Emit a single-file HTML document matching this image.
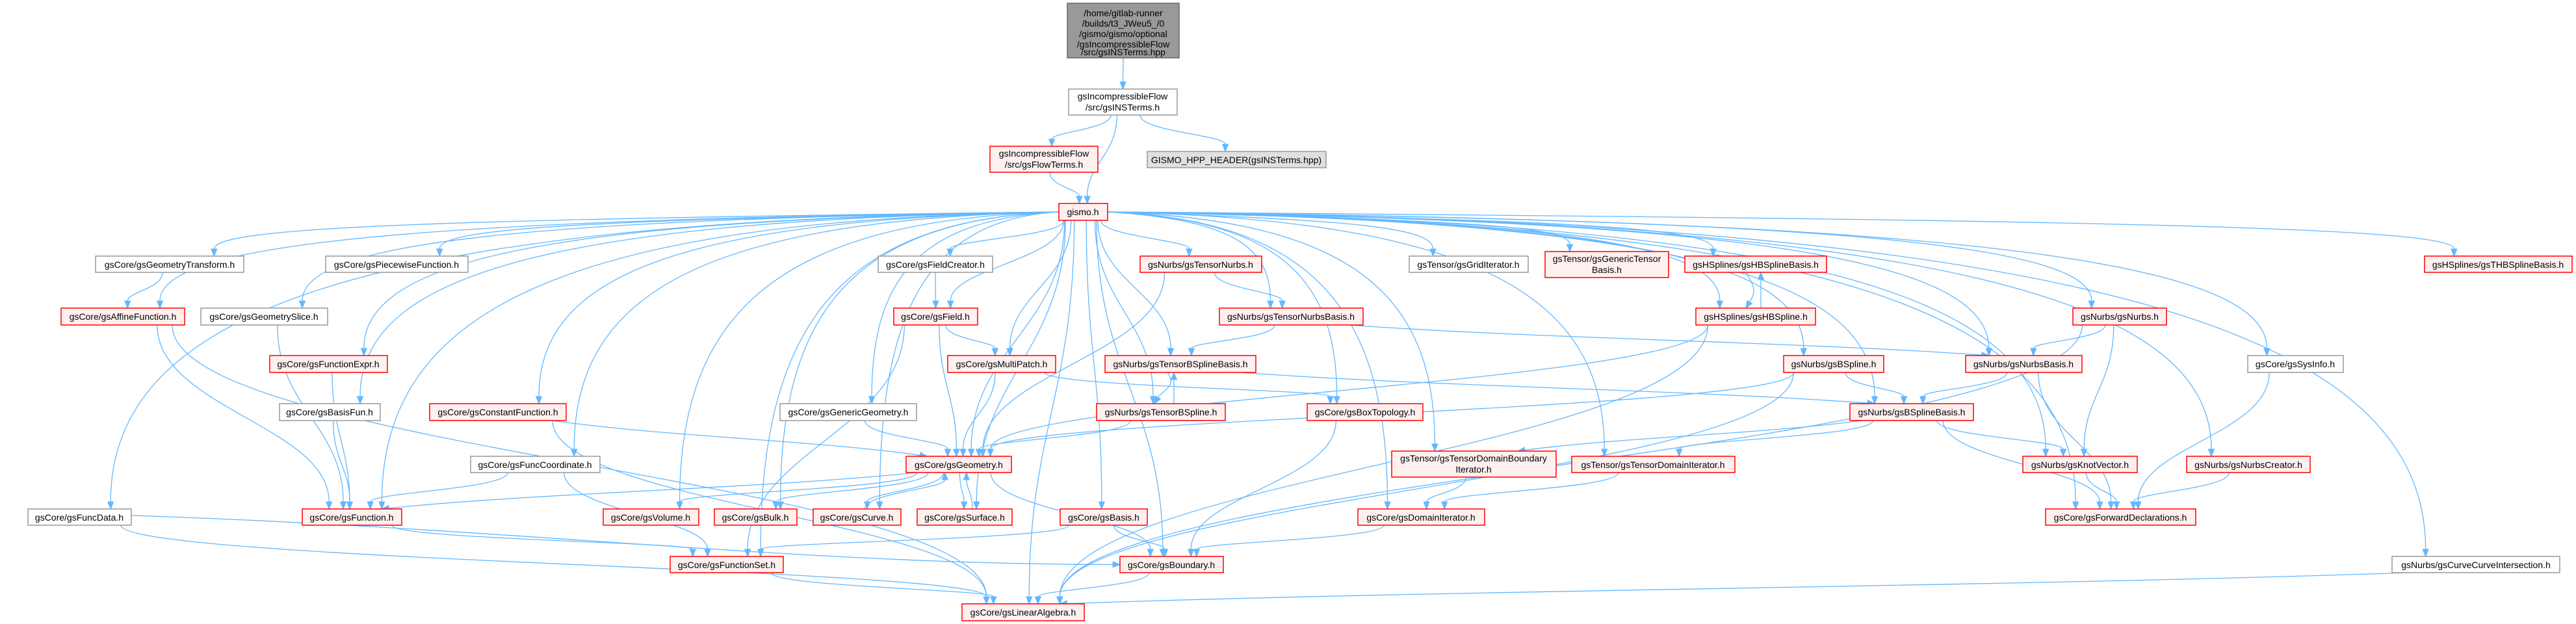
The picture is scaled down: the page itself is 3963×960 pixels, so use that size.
<!DOCTYPE html>
<html><head><meta charset="utf-8"><style>
html,body{margin:0;padding:0;background:#fff;}
svg{display:block;}
text{font-family:"Liberation Sans","DejaVu Sans",sans-serif;font-size:14px;fill:#000;text-anchor:middle;}
</style></head><body>
<svg id="g" width="3963" height="960" xmlns="http://www.w3.org/2000/svg">
<g id="edges" fill="none" stroke="#63b8ff" stroke-width="1.3"></g>
<g id="heads" fill="#63b8ff" stroke="#63b8ff"></g>
<g id="boxes"></g>
<g id="labels">
<text x="1728" y="25">/home/gitlab-runner</text>
<text x="1728" y="41">/builds/t3_JWeu5_/0</text>
<text x="1728" y="57">/gismo/gismo/optional</text>
<text x="1728" y="73">/gsIncompressibleFlow</text>
<text x="1728" y="89" dy="-4">/src/gsINSTerms.hpp</text>
<text x="1727" y="153">gsIncompressibleFlow</text>
<text x="1727" y="170">/src/gsINSTerms.h</text>
<text x="1606" y="241">gsIncompressibleFlow</text>
<text x="1606" y="258">/src/gsFlowTerms.h</text>
<text x="1902" y="251">GISMO_HPP_HEADER(gsINSTerms.hpp)</text>
<text x="1666" y="331">gismo.h</text>
<text x="261" y="412">gsCore/gsGeometryTransform.h</text>
<text x="610" y="412">gsCore/gsPiecewiseFunction.h</text>
<text x="189" y="492">gsCore/gsAffineFunction.h</text>
<text x="406" y="492">gsCore/gsGeometrySlice.h</text>
<text x="505" y="565">gsCore/gsFunctionExpr.h</text>
<text x="507" y="639">gsCore/gsBasisFun.h</text>
<text x="766" y="639">gsCore/gsConstantFunction.h</text>
<text x="823" y="720">gsCore/gsFuncCoordinate.h</text>
<text x="122" y="801">gsCore/gsFuncData.h</text>
<text x="541" y="801">gsCore/gsFunction.h</text>
<text x="1001" y="801">gsCore/gsVolume.h</text>
<text x="1162" y="801">gsCore/gsBulk.h</text>
<text x="1318" y="801">gsCore/gsCurve.h</text>
<text x="1484" y="801">gsCore/gsSurface.h</text>
<text x="1698" y="801">gsCore/gsBasis.h</text>
<text x="1118" y="874">gsCore/gsFunctionSet.h</text>
<text x="1802" y="874">gsCore/gsBoundary.h</text>
<text x="1574" y="947">gsCore/gsLinearAlgebra.h</text>
<text x="1439" y="412">gsCore/gsFieldCreator.h</text>
<text x="1847" y="412">gsNurbs/gsTensorNurbs.h</text>
<text x="1439" y="492">gsCore/gsField.h</text>
<text x="1986" y="492">gsNurbs/gsTensorNurbsBasis.h</text>
<text x="1541" y="565">gsCore/gsMultiPatch.h</text>
<text x="1816" y="565">gsNurbs/gsTensorBSplineBasis.h</text>
<text x="1305" y="639">gsCore/gsGenericGeometry.h</text>
<text x="1786" y="639">gsNurbs/gsTensorBSpline.h</text>
<text x="1475" y="720">gsCore/gsGeometry.h</text>
<text x="2259" y="412">gsTensor/gsGridIterator.h</text>
<text x="2472" y="403">gsTensor/gsGenericTensor</text>
<text x="2472" y="420">Basis.h</text>
<text x="2701" y="412">gsHSplines/gsHBSplineBasis.h</text>
<text x="2701" y="492">gsHSplines/gsHBSpline.h</text>
<text x="2821" y="565">gsNurbs/gsBSpline.h</text>
<text x="2100" y="639">gsCore/gsBoxTopology.h</text>
<text x="2941" y="639">gsNurbs/gsBSplineBasis.h</text>
<text x="2267" y="710">gsTensor/gsTensorDomainBoundary</text>
<text x="2267" y="727">Iterator.h</text>
<text x="2543" y="720">gsTensor/gsTensorDomainIterator.h</text>
<text x="2186" y="801">gsCore/gsDomainIterator.h</text>
<text x="3843" y="412">gsHSplines/gsTHBSplineBasis.h</text>
<text x="3261" y="492">gsNurbs/gsNurbs.h</text>
<text x="3113" y="565">gsNurbs/gsNurbsBasis.h</text>
<text x="3531" y="565">gsCore/gsSysInfo.h</text>
<text x="3200" y="720">gsNurbs/gsKnotVector.h</text>
<text x="3459" y="720">gsNurbs/gsNurbsCreator.h</text>
<text x="3262" y="801">gsCore/gsForwardDeclarations.h</text>
<text x="3809" y="874">gsNurbs/gsCurveCurveIntersection.h</text>
</g>
</svg>
<script>
var N={
top:[1642,5,1814,89,'t'],INS:[1644,137,1811,177,'g'],FT:[1523,225,1689,265,'r'],HPP:[1765,233,2040,258,'d'],
gismo:[1629,313,1704,339,'r'],GT:[147,394,375,419,'g'],PF:[501,394,720,419,'g'],AF:[94,474,284,500,'r'],
GS:[309,474,504,500,'g'],FE:[415,547,596,573,'r'],BF:[430,621,585,647,'g'],CF:[661,621,871,647,'r'],
FC:[724,702,923,727,'g'],FD:[43,783,202,808,'g'],FN:[465,783,618,808,'r'],VO:[928,783,1075,808,'r'],
BU:[1099,783,1226,808,'r'],CU:[1251,783,1386,808,'r'],SU:[1411,783,1557,808,'r'],BA:[1631,783,1765,808,'r'],
FS:[1031,856,1205,881,'r'],BD:[1723,856,1882,881,'r'],LA:[1480,929,1668,955,'r'],FCR:[1351,394,1527,419,'g'],
TN:[1754,394,1941,419,'r'],FI:[1375,474,1504,500,'r'],TNB:[1876,474,2097,500,'r'],MP:[1458,547,1624,573,'r'],
TBB:[1700,547,1932,573,'r'],GG:[1200,621,1410,647,'g'],TBS:[1687,621,1885,647,'r'],GE:[1394,702,1556,727,'r'],
GI:[2168,394,2351,419,'g'],GTB:[2377,387,2567,427,'r'],HBB:[2592,394,2810,419,'r'],HBS:[2609,474,2793,500,'r'],
BS:[2744,547,2898,573,'r'],BT:[2011,621,2189,647,'r'],BSB:[2846,621,3036,647,'r'],TDBI:[2141,694,2394,734,'r'],
TDI:[2418,702,2669,727,'r'],DI:[2089,783,2284,808,'r'],THB:[3730,394,3957,419,'r'],NU:[3189,474,3333,500,'r'],
NB:[3024,547,3203,573,'r'],SI:[3458,547,3605,573,'g'],KV:[3112,702,3288,727,'r'],NC:[3364,702,3554,727,'r'],
FWD:[3147,783,3378,808,'r'],CCI:[3680,856,3938,881,'g']};
var E=[['top','INS'],['INS','FT'],['INS','gismo'],['INS','HPP'],['FT','gismo'],
['GT','AF'],['AF','FN'],['AF','LA'],['GS','FN'],['FE','FN'],['BF','FN'],['CF','GE'],['CF','LA'],['FC','FN'],['FC','FS'],
['FD','BD'],['FD','LA'],['FN','FS'],['FCR','FI'],['FI','MP'],['FI','GE'],['FI','FS'],['MP','GE'],['MP','BT'],
['TN','TNB'],['TN','GE'],['TNB','TBB'],['TNB','NB'],['TBB','TBS'],['TBS','TBB'],['TBB','BSB'],['TBS','GE'],['GG','GE'],
['GE','FN'],['GE','VO'],['GE','BU'],['GE','CU'],['GE','SU'],['GE','BD'],['CU','GE'],['SU','GE'],['BA','FS'],['BA','BD'],
['FS','LA'],['BD','LA'],['HBB','HBS'],['HBS','HBB'],['HBS','GE'],['HBS','LA'],['BS','BSB'],['BS','GE'],['BS','LA'],
['BT','BD'],['BSB','TDBI'],['BSB','TDI'],['BSB','KV'],['BSB','FWD'],['TDBI','DI'],['TDI','DI'],['DI','BD'],
['NU','NB'],['NU','KV'],['NU','LA'],['NB','BSB'],['NB','FWD'],['KV','FWD'],['NC','FWD'],['SI','FWD'],['CCI','LA']];
['GT','PF','AF','GS','FE','BF','CF','FC','FD','FN','VO','BU','CU','SU','GG','FCR','FI','MP','TN','TNB','TBB','TBS','GE','BA','FS','BD','LA',
'GI','GTB','HBB','HBS','BS','BT','BSB','TDBI','TDI','DI','THB','NU','NB','SI','KV','NC','FWD','CCI'].forEach(function(t){E.push(['gismo',t]);});
var ns='http://www.w3.org/2000/svg';
function el(n,a,p){var e=document.createElementNS(ns,n);for(var k in a)e.setAttribute(k,a[k]);p.appendChild(e);return e;}
var B=document.getElementById('boxes'),EG=document.getElementById('edges'),H=document.getElementById('heads');
var sty={t:['#999999','#666666'],g:['#ffffff','#999999'],r:['#fff0f0','#ff0000'],d:['#e0e0e0','#999999']};
for(var k in N){var n=N[k];el('rect',{x:n[0],y:n[1],width:n[2]-n[0],height:n[3]-n[1],fill:sty[n[4]][0],stroke:sty[n[4]][1],'stroke-width':1.5},B);}
E.forEach(function(e){
 var s=N[e[0]],t=N[e[1]];
 var scx=(s[0]+s[2])/2,tcx=(t[0]+t[2])/2;
 var sx,sy,tx,ty,c1x,c1y,c2x,c2y;
 if(t[1]>=s[3]-2){ // downward
  var w=(s[2]-s[0])/2;
  sx=scx+Math.max(-w*0.8,Math.min(w*0.8,(tcx-scx)*0.15));sy=s[3];
  tx=tcx+Math.max(-(t[2]-t[0])*0.3,Math.min((t[2]-t[0])*0.3,(scx-tcx)*0.1));ty=t[1];
  if(e[0]=='gismo'&&Math.abs(tx-sx)>250){sx=tx<sx?s[0]:s[2];sy=(s[1]+s[3])/2;
   c1x=sx+(tx-sx)*0.75;c1y=sy+12;c2x=tx;c2y=sy+(ty-sy)*0.35;}
  else{var dy=ty-sy;c1x=sx;c1y=sy+dy*0.45;c2x=tx;c2y=ty-dy*0.45;
   if(Math.abs(tx-sx)>500&&dy<120){c1x=sx+(tx-sx)*0.3;c2x=tx-(tx-sx)*0.3;}}
 }else if(t[3]<=s[1]+2){ // upward
  sx=scx+(tcx-scx)*0.3;sy=s[1];tx=tcx+(scx-tcx)*0.2+8;ty=t[3];var dy=ty-sy;
  if(e[0]=='CU'||e[0]=='SU'){sx=scx+12;tx=tcx+(scx-tcx)*0.2+10;}
  if(e[0]=='TBS'){sx=scx+20;tx=tcx-10;} if(e[0]=='HBS'){sx=scx+8;tx=tcx+8;}
  c1x=sx;c1y=sy+dy*0.45;c2x=tx;c2y=ty-dy*0.45;
 }else{ // same row
  sx=tcx>scx?s[2]:s[0];sy=(s[1]+s[3])/2;tx=tcx>scx?t[0]:t[2];ty=(t[1]+t[3])/2;
  c1x=sx+(tx-sx)*0.4;c1y=sy;c2x=sx+(tx-sx)*0.6;c2y=ty;
 }
 if(e[0]=='FD'&&e[1]=='BD'){sx=s[2];sy=s[1]+10;tx=t[0];ty=(t[1]+t[3])/2;c1x=sx+600;c1y=sy+20;c2x=tx-500;c2y=ty;}
 if(e[0]=='TBB'&&e[1]=='TBS'){sx=scx-20;tx=tcx-10;}
 if(e[0]=='HBB'&&e[1]=='HBS'){sx=scx-15;tx=tcx-15;}
 // arrow
 var ax=tx-c2x,ay=ty-c2y,L=Math.sqrt(ax*ax+ay*ay)||1;ax/=L;ay/=L;
 var bx=tx-ax*11,by=ty-ay*11;
 el('path',{d:'M'+sx+','+sy+' C'+c1x+','+c1y+' '+c2x+','+c2y+' '+bx+','+by},EG);
 el('path',{d:'M'+tx+','+ty+' L'+(bx-ay*4.5)+','+(by+ax*4.5)+' L'+(bx+ay*4.5)+','+(by-ax*4.5)+'Z'},H);
});
</script>
</body></html>
